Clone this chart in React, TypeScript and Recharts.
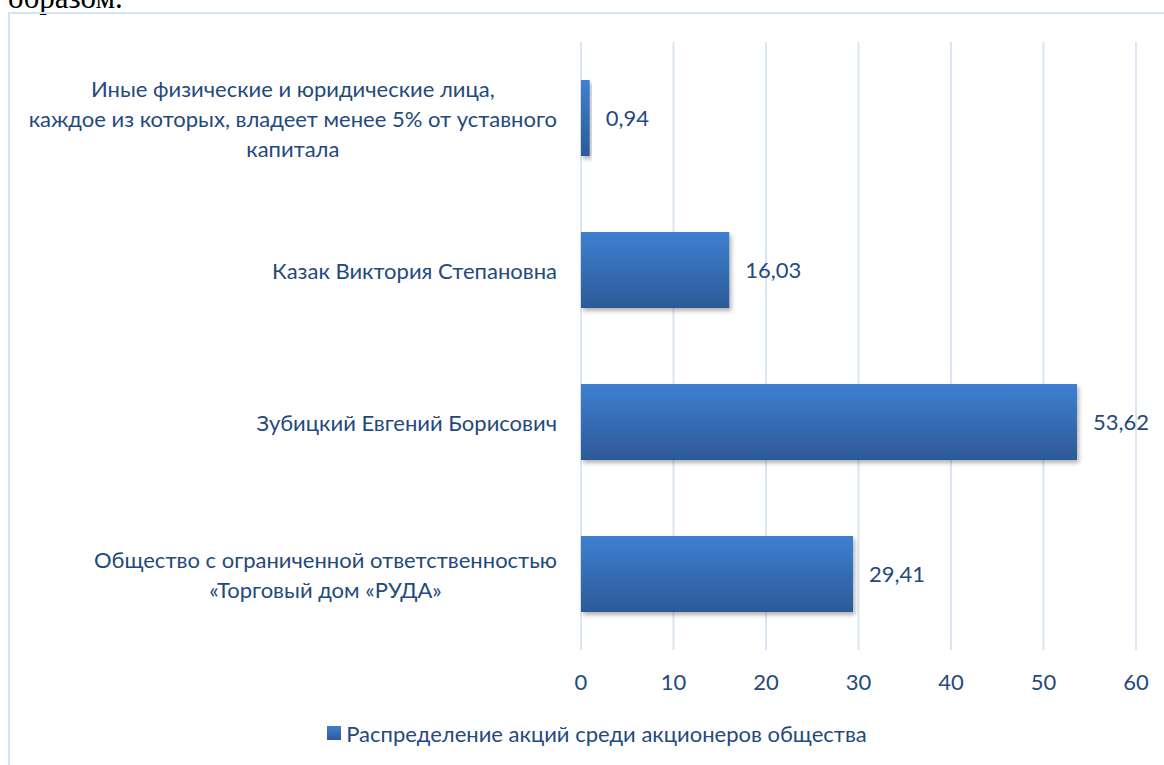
import { BarChart, Bar, XAxis, YAxis, CartesianGrid, LabelList, Legend } from 'recharts';

const categories = [
  'Иные физические и юридические лица,\nкаждое из которых, владеет менее 5% от уставного\nкапитала',
  'Казак Виктория Степановна',
  'Зубицкий Евгений Борисович',
  'Общество с ограниченной ответственностью\n«Торговый дом «РУДА»',
];
const shares = [0.94, 16.03, 53.62, 29.41];
const xTicks = [0, 10, 20, 30, 40, 50, 60];
const seriesName = 'Распределение акций среди акционеров общества';

const data = categories.map((name, i) => ({ name, value: shares[i] }));

const FONT = 'Lato, "Open Sans", sans-serif';
const TEXT = '#24497d';
const FONT_SIZE = 22;

let ctx: CanvasRenderingContext2D | null = null;
function measure(s: string) {
  if (!ctx) ctx = document.createElement('canvas').getContext('2d');
  if (!ctx) return s.length * FONT_SIZE * 0.5;
  ctx.font = `${FONT_SIZE}px ${FONT}`;
  return ctx.measureText(s).width;
}

// wrapped lines are centred on each other, block is right-aligned
const CategoryTick = ({ x, y, payload }: any) => {
  const lines = String(payload.value).split('\n');
  const maxW = Math.max(...lines.map(measure));
  const cx = x - maxW / 2;
  const lh = 30;
  return (
    <g>
      {lines.map((l, i) => (
        <text
          key={i}
          x={cx}
          y={y + (i - (lines.length - 1) / 2) * lh}
          textAnchor="middle"
          dominantBaseline="central"
          fill={TEXT}
          fontSize={FONT_SIZE}
          fontFamily={FONT}
        >
          {l}
        </text>
      ))}
    </g>
  );
};

const LegendBox = () => (
  <div
    style={{
      display: 'flex',
      justifyContent: 'center',
      alignItems: 'center',
      height: 30,
      paddingLeft: 30,
      fontFamily: FONT,
      fontSize: FONT_SIZE,
      color: TEXT,
    }}
  >
    <span
      style={{
        width: 14,
        height: 14,
        marginRight: 5,
        background: 'linear-gradient(#3f7fd0, #2d5b9a)',
        display: 'inline-block',
      }}
    />
    {seriesName}
  </div>
);

export default function App() {
  return (
    <div
      style={{
        position: 'fixed',
        left: 0,
        top: 0,
        width: 1164,
        height: 765,
        overflow: 'hidden',
        background: '#fff',
      }}
    >
      <div
        style={{
          position: 'absolute',
          left: 8,
          top: -18,
          fontFamily: '"Liberation Serif", "Times New Roman", serif',
          fontSize: 31,
          lineHeight: 1,
          color: '#000',
        }}
      >
        образом.
      </div>
      <div
        style={{
          position: 'absolute',
          left: 8,
          top: 12,
          width: 1200,
          height: 800,
          borderTop: '2px solid #d6e3f4',
          borderLeft: '2px solid #d6e3f4',
        }}
      />
      <div style={{ position: 'absolute', left: 0, top: 0 }}>
        <BarChart
          width={1164}
          height={765}
          data={data}
          layout="vertical"
          margin={{ top: 42, right: 28, bottom: 17, left: 0 }}
          barCategoryGap="25%"
        >
          <defs>
            <linearGradient id="barFill" x1="0" y1="0" x2="0" y2="1">
              <stop offset="0%" stopColor="#3f80d1" />
              <stop offset="100%" stopColor="#2c5a97" />
            </linearGradient>
            <filter id="barShadow" x="-10%" y="-10%" width="130%" height="140%">
              <feDropShadow dx="2" dy="3" stdDeviation="2" floodColor="#000" floodOpacity="0.3" />
            </filter>
          </defs>
          <CartesianGrid horizontal={false} stroke="#dbe6f4" strokeWidth={2} />
          <XAxis
            type="number"
            domain={[0, 60]}
            ticks={xTicks}
            axisLine={false}
            tickLine={false}
            tickSize={0}
            tickMargin={24}
            height={68}
            tick={{ fill: TEXT, fontSize: FONT_SIZE, fontFamily: FONT }}
          />
          <YAxis
            type="category"
            dataKey="name"
            width={581}
            axisLine={false}
            tickLine={false}
            tickSize={0}
            tickMargin={24}
            interval={0}
            tick={<CategoryTick />}
          />
          <Legend verticalAlign="bottom" height={30} content={<LegendBox />} wrapperStyle={{ left: 0, width: 1164 }} />
          <Bar
            dataKey="value"
            name={seriesName}
            fill="url(#barFill)"
            filter="url(#barShadow)"
            isAnimationActive={false}
          >
            <LabelList
              dataKey="value"
              position="right"
              offset={16}
              fill={TEXT}
              fontSize={FONT_SIZE}
              fontFamily={FONT}
              formatter={(v: any) => Number(v).toFixed(2).replace('.', ',')}
            />
          </Bar>
        </BarChart>
      </div>
    </div>
  );
}
